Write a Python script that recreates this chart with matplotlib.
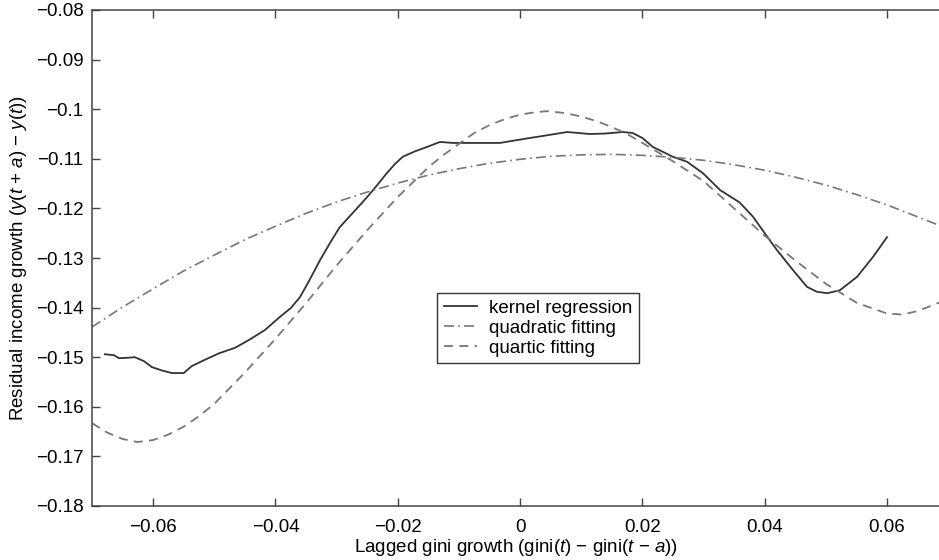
import matplotlib
matplotlib.use("Agg")
import matplotlib.pyplot as plt

plt.rcParams['font.family'] = ['Liberation Sans', 'DejaVu Sans']
plt.rcParams['mathtext.fontset'] = 'custom'
plt.rcParams['mathtext.rm'] = 'Liberation Sans'
plt.rcParams['mathtext.it'] = 'Liberation Sans:italic'

# ---- data ----
kernel_x = [-0.0679, -0.0664, -0.0656, -0.0640, -0.0630, -0.0615, -0.0602, -0.0585,
            -0.0569, -0.0550, -0.0537, -0.0515, -0.0492, -0.0466, -0.0443, -0.0417,
            -0.0393, -0.0375, -0.0360, -0.0345, -0.0327, -0.0310, -0.0295, -0.0272,
            -0.0250, -0.0233, -0.0218, -0.0205, -0.0192, -0.0172, -0.0152,
            -0.0131, -0.0110, -0.0054, -0.0033, 0.0016, 0.0037, 0.0077, 0.0114,
            0.0140, 0.0168, 0.0184, 0.0200, 0.0217, 0.0250, 0.0273, 0.0299, 0.0327,
            0.0359, 0.0381, 0.0400, 0.0420, 0.0446, 0.0469, 0.0485, 0.0502, 0.0523, 0.0551,
            0.0577, 0.0600]
kernel_y = [-0.1494, -0.1496, -0.1502, -0.1501, -0.1500, -0.1508, -0.1520, -0.1527,
            -0.1532, -0.1532, -0.1518, -0.1505, -0.1492, -0.1481, -0.1465, -0.1445,
            -0.1419, -0.1401, -0.1379, -0.1346, -0.1304, -0.1268, -0.1238, -0.1207,
            -0.1177, -0.1152, -0.1129, -0.1111, -0.1096, -0.1085, -0.1076,
            -0.1066, -0.1068, -0.1068, -0.1068, -0.1058, -0.1054, -0.1046, -0.1050,
            -0.1049, -0.1046, -0.1048, -0.1058, -0.1076, -0.1096, -0.1106, -0.1129, -0.1163,
            -0.1188, -0.1217, -0.1250, -0.1284, -0.1324, -0.1358, -0.1368, -0.1371, -0.1365, -0.1338,
            -0.1298, -0.1258]

quad_x = [-0.070, -0.065, -0.060, -0.055, -0.050, -0.045, -0.040, -0.035, -0.030,
          -0.025, -0.020, -0.015, -0.010, -0.005, 0.000, 0.005, 0.010, 0.015, 0.020,
          0.025, 0.030, 0.035, 0.040, 0.045, 0.050, 0.055, 0.060, 0.065, 0.0685]
quad_y = [-0.1439, -0.1399, -0.1362, -0.1326, -0.1294, -0.1263, -0.1236, -0.1210, -0.1187,
          -0.1167, -0.1149, -0.1133, -0.1120, -0.1109, -0.1101, -0.1095, -0.1092, -0.1091, -0.1093,
          -0.1097, -0.1103, -0.1112, -0.1123, -0.1137, -0.1153, -0.1172, -0.1193, -0.1217, -0.1234]

quart_x = [-0.070, -0.0675, -0.065, -0.0626, -0.060, -0.0575, -0.055, -0.0525, -0.050,
           -0.045, -0.040, -0.035, -0.030, -0.025, -0.020, -0.015, -0.0125, -0.010,
           -0.0075, -0.005, -0.0025, 0.000, 0.0025, 0.0044, 0.0075, 0.010, 0.0125, 0.015,
           0.0175, 0.020, 0.025, 0.030, 0.035, 0.040, 0.045, 0.050, 0.055, 0.060, 0.0625,
           0.065, 0.0685]
quart_y = [-0.1633, -0.1652, -0.1665, -0.1671, -0.1667, -0.1656, -0.1640, -0.1619, -0.1594,
           -0.1531, -0.1463, -0.1391, -0.1315, -0.1244, -0.1177, -0.1117, -0.1092, -0.1070,
           -0.1048, -0.1032, -0.1020, -0.1011, -0.1006, -0.1004, -0.1008, -0.1015, -0.1024, -0.1036,
           -0.1050, -0.1068, -0.1105, -0.1145, -0.1200, -0.1255, -0.1305, -0.1352, -0.1390, -0.1412, -0.1414,
           -0.1407, -0.1390]

x_ticks = [-0.06, -0.04, -0.02, 0.0, 0.02, 0.04, 0.06]
x_tick_labels = ['\u22120.06', '\u22120.04', '\u22120.02', '0', '0.02', '0.04', '0.06']
y_ticks = [-0.18, -0.17, -0.16, -0.15, -0.14, -0.13, -0.12, -0.11, -0.1, -0.09, -0.08]
y_tick_labels = ['\u22120.18', '\u22120.17', '\u22120.16', '\u22120.15', '\u22120.14', '\u22120.13',
                 '\u22120.12', '\u22120.11', '\u22120.1', '\u22120.09', '\u22120.08']

legend_labels = ['kernel regression', 'quadratic fitting', 'quartic fitting']

fig = plt.figure(figsize=(9.39, 5.6), dpi=100)
ax = fig.add_axes([92/939, 54/560, 847/939, 496/560])

ax.plot(kernel_x, kernel_y, color='#333333', lw=1.3, ls='-', label=legend_labels[0])
ax.plot(quad_x, quad_y, color='#777777', lw=1.2, ls=(0, (6, 2.5, 1, 2.5)), label=legend_labels[1])
ax.plot(quart_x, quart_y, color='#777777', lw=1.3, ls=(0, (5, 3.5)), label=legend_labels[2])

ax.set_xlim(-0.07, 0.0685)
ax.set_ylim(-0.18, -0.08)
ax.set_xticks(x_ticks)
ax.set_xticklabels(x_tick_labels, fontsize=13.5)
ax.set_yticks(y_ticks)
ax.set_yticklabels(y_tick_labels, fontsize=13.5)
ax.tick_params(direction='in', length=6, width=1, color='#444444', top=True, right=False,
               pad=6)
ax.tick_params(axis='x', pad=9)
ax.spines['right'].set_visible(False)
for s in ['left', 'top', 'bottom']:
    ax.spines[s].set_color('#444444')
    ax.spines[s].set_linewidth(1.1)

ax.set_xlabel('Lagged gini growth (gini($t$) \u2212 gini($t$ \u2212 $a$))', fontsize=13.5, labelpad=1)
ax.set_ylabel('Residual income growth ($y$($t$ + $a$) \u2212 $y$($t$))', fontsize=13.5, labelpad=5)

leg = ax.legend(loc='upper left', bbox_to_anchor=((437-92)/847, (506-293)/496),
                borderaxespad=0, fancybox=False, edgecolor='#333333', framealpha=1,
                fontsize=13.5, handlelength=1.8, handletextpad=0.6, labelspacing=0.15,
                borderpad=0.35)
leg.get_frame().set_linewidth(1.0)

fig.savefig('out.png', dpi=100)
